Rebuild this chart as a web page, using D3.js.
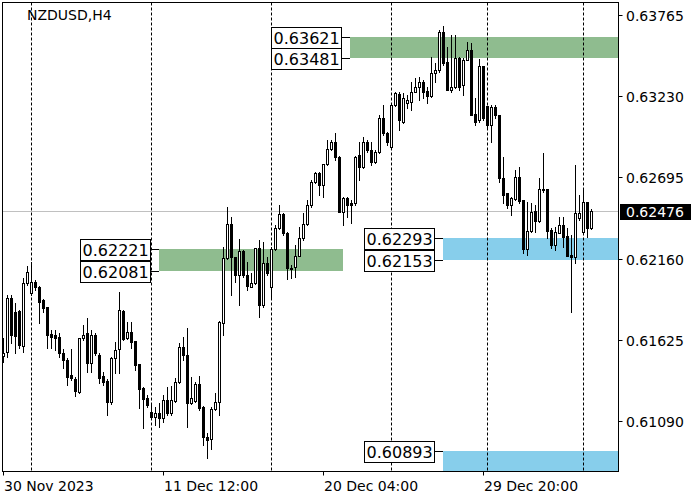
<!DOCTYPE html>
<html><head><meta charset="utf-8">
<script src="https://cdn.jsdelivr.net/npm/d3@7/dist/d3.min.js"></script>
<style>body{margin:0;background:#fff;} svg{display:block;}</style>
</head><body>
<script>
const symbolLabel = "NZDUSD,H4";
const opens = [
0.61518,0.61544,0.61900,0.61808,0.61815,0.61584,0.61999,0.61933,0.62006,0.61973,
0.61887,0.61841,0.61663,0.61657,0.61643,0.61538,0.61492,0.61393,0.61367,0.61281,
0.61637,0.61670,0.61472,0.61657,0.61525,0.61386,0.61353,0.61215,0.61505,0.61564,
0.61815,0.61637,0.61676,0.61617,0.61465,0.61307,0.61241,0.61149,0.61116,0.61142,
0.61110,0.61228,0.61142,0.61222,0.61347,0.61578,0.61525,0.61208,0.61222,0.61334,
0.61182,0.60984,0.60971,0.61169,0.61215,0.61736,0.62164,0.62388,0.62170,0.62052,
0.62210,0.62052,0.61973,0.61999,0.62230,0.61854,0.62131,0.61973,0.62223,0.62362,
0.62454,0.62329,0.62098,0.62105,0.62177,0.62296,0.62388,0.62513,0.62665,0.62724,
0.62645,0.62783,0.62882,0.62928,0.62830,0.62467,0.62559,0.62526,0.62526,0.62843,
0.62764,0.62928,0.62876,0.62796,0.62862,0.63086,0.62987,0.62895,0.63172,0.63245,
0.63060,0.63185,0.63192,0.63258,0.63291,0.63324,0.63264,0.63231,0.63383,0.63403,
0.63653,0.63455,0.63271,0.63291,0.63482,0.63304,0.63469,0.63534,0.63113,0.63073,
0.63429,0.63165,0.63040,0.63159,0.63106,0.62691,0.62592,0.62513,0.62553,0.62698,
0.62546,0.62223,0.62342,0.62474,0.62408,0.62612,0.62618,0.62348,0.62250,0.62329,
0.62381,0.62309,0.62184,0.62170,0.62427,0.62335,0.62533,0.62362];
const highs = [
0.61637,0.61920,0.61920,0.61867,0.61821,0.62032,0.62111,0.62138,0.62019,0.61979,
0.61894,0.61841,0.61689,0.61689,0.61670,0.61564,0.61505,0.61564,0.61380,0.61640,
0.61722,0.61769,0.61689,0.61670,0.61538,0.61413,0.61367,0.61512,0.61610,0.61940,
0.61821,0.61742,0.61742,0.61617,0.61465,0.61314,0.61261,0.61195,0.61182,0.61208,
0.61261,0.61314,0.61320,0.61373,0.61604,0.61643,0.61703,0.61380,0.61347,0.61386,
0.61189,0.61011,0.61182,0.61274,0.61748,0.62236,0.62500,0.62434,0.62172,0.62289,
0.62217,0.62138,0.62065,0.62233,0.62282,0.62269,0.62170,0.62236,0.62381,0.62513,
0.62460,0.62332,0.62118,0.62250,0.62368,0.62460,0.62546,0.62678,0.62730,0.62730,
0.62786,0.62941,0.62941,0.62987,0.62833,0.62566,0.62566,0.62546,0.62833,0.62928,
0.62961,0.62941,0.62928,0.62876,0.63106,0.63172,0.62994,0.63185,0.63258,0.63258,
0.63251,0.63238,0.63324,0.63350,0.63357,0.63337,0.63291,0.63488,0.63449,0.63666,
0.63692,0.63554,0.63633,0.63633,0.63488,0.63482,0.63587,0.63580,0.63218,0.63475,
0.63432,0.63168,0.63172,0.63172,0.63109,0.62830,0.62595,0.62566,0.62744,0.62764,
0.62549,0.62533,0.62526,0.62513,0.62691,0.62856,0.62621,0.62362,0.62368,0.62434,
0.62434,0.62362,0.62315,0.62777,0.62579,0.62625,0.62536,0.62487];
const lows = [
0.61479,0.61512,0.61604,0.61538,0.61571,0.61544,0.61986,0.61920,0.61953,0.61736,
0.61808,0.61571,0.61571,0.61558,0.61512,0.61439,0.61327,0.61360,0.61255,0.61274,
0.61624,0.61413,0.61413,0.61525,0.61340,0.61327,0.61129,0.61202,0.61406,0.61406,
0.61624,0.61630,0.61571,0.61426,0.61176,0.61044,0.61182,0.61100,0.61063,0.61050,
0.61083,0.61129,0.61129,0.61215,0.61340,0.61492,0.61050,0.61202,0.61215,0.61162,
0.60932,0.60846,0.60905,0.61162,0.61129,0.61657,0.62160,0.61920,0.62006,0.61854,
0.62039,0.61953,0.61970,0.61993,0.61775,0.61841,0.62052,0.61900,0.62217,0.62358,
0.62315,0.62025,0.62032,0.62039,0.62174,0.62282,0.62381,0.62500,0.62658,0.62579,
0.62566,0.62777,0.62876,0.62810,0.62464,0.62381,0.62434,0.62394,0.62513,0.62678,
0.62757,0.62862,0.62777,0.62790,0.62856,0.62974,0.62908,0.62889,0.63165,0.63007,
0.63053,0.63152,0.63139,0.63255,0.63205,0.63218,0.63185,0.63225,0.63324,0.63390,
0.63436,0.63268,0.63258,0.63284,0.63271,0.63238,0.63466,0.63103,0.63040,0.63060,
0.63073,0.63027,0.62928,0.63086,0.62665,0.62526,0.62493,0.62447,0.62546,0.62526,
0.62197,0.62184,0.62335,0.62335,0.62401,0.62599,0.62296,0.62230,0.62217,0.62326,
0.62236,0.62174,0.61808,0.62131,0.62414,0.62329,0.62302,0.62355];
const closes = [
0.61538,0.61900,0.61657,0.61650,0.61591,0.61999,0.62072,0.62006,0.61973,0.61874,
0.61834,0.61657,0.61643,0.61637,0.61538,0.61492,0.61380,0.61373,0.61288,0.61637,
0.61657,0.61472,0.61657,0.61538,0.61373,0.61347,0.61215,0.61505,0.61558,0.61821,
0.61630,0.61676,0.61610,0.61459,0.61301,0.61235,0.61195,0.61116,0.61142,0.61110,
0.61228,0.61142,0.61228,0.61347,0.61578,0.61525,0.61208,0.61241,0.61334,0.61176,
0.60984,0.60965,0.61169,0.61215,0.61742,0.62164,0.62388,0.62170,0.62052,0.62210,
0.62052,0.61979,0.61999,0.62230,0.61854,0.62131,0.62065,0.62223,0.62362,0.62454,
0.62329,0.62098,0.62091,0.62177,0.62296,0.62388,0.62513,0.62665,0.62724,0.62645,
0.62783,0.62882,0.62928,0.62830,0.62467,0.62559,0.62513,0.62513,0.62830,0.62764,
0.62928,0.62876,0.62796,0.62862,0.63086,0.62987,0.62928,0.63172,0.63251,0.63073,
0.63218,0.63205,0.63258,0.63291,0.63324,0.63258,0.63231,0.63383,0.63403,0.63653,
0.63449,0.63271,0.63291,0.63482,0.63291,0.63469,0.63534,0.63106,0.63060,0.63429,
0.63086,0.63040,0.63159,0.63106,0.62691,0.62579,0.62513,0.62559,0.62698,0.62540,
0.62223,0.62342,0.62467,0.62408,0.62618,0.62618,0.62342,0.62250,0.62335,0.62381,
0.62302,0.62177,0.62170,0.62460,0.62460,0.62533,0.62362,0.62476];

const priceTicks = [0.63765, 0.63230, 0.62695, 0.62160, 0.61625, 0.61090];
const timeTickBars = [0, 40, 80, 120];
const timeTickLabels = ["30 Nov 2023", "11 Dec 12:00", "20 Dec 04:00", "29 Dec 20:00"];
const gridBars = [7, 37, 67, 97, 121, 145];
const currentPrice = 0.62476;

// zones: top price, bottom price, start bar, end bar (null = right edge), colour, labels
const zoneTops = [0.63621, 0.62221, 0.62293, 0.60893];
const zoneBottoms = [0.63481, 0.62081, 0.62153, 0.60600];
const zoneStartBars = [86.6, 38.9, 109.9, 109.9];
const zoneEndBars = [null, 84.9, null, null];
const zoneColors = ["#8fbc8f", "#8fbc8f", "#87ceeb", "#87ceeb"];
const zoneLabels = [["0.63621","0.63481"],["0.62221","0.62081"],["0.62293","0.62153"],["0.60893"]];

const W = 700, H = 500;
const plot = {l: 2.5, t: 2.5, r: 618.5, b: 471.5};
const font = "DejaVu Sans, sans-serif";

const svg = d3.select("body").append("svg").attr("width", W).attr("height", H);
svg.append("rect").attr("width", W).attr("height", H).attr("fill", "#fff");

const x = d3.scaleLinear().domain([0, opens.length - 1]).range([3.5, 3.5 + 4 * (opens.length - 1)]);
const y = d3.scaleLinear().domain([0.61090, 0.63765]).range([421, 15]);

svg.append("clipPath").attr("id", "clip").append("rect")
  .attr("x", plot.l).attr("y", plot.t).attr("width", plot.r - plot.l).attr("height", plot.b - plot.t);
const g = svg.append("g").attr("clip-path", "url(#clip)");

// zones
zoneTops.forEach((top, k) => {
  const x0 = Math.round(x(zoneStartBars[k]));
  const x1 = zoneEndBars[k] === null ? plot.r : Math.round(x(zoneEndBars[k]));
  const y0 = Math.round(y(top)), y1 = Math.round(y(zoneBottoms[k]));
  g.append("rect").attr("x", x0).attr("y", y0).attr("width", x1 - x0).attr("height", y1 - y0)
    .attr("fill", zoneColors[k]);
});

// current price line
g.append("line").attr("x1", plot.l).attr("x2", plot.r)
  .attr("y1", Math.round(y(currentPrice)) + 0.5).attr("y2", Math.round(y(currentPrice)) + 0.5)
  .attr("stroke", "#c0c0c0").attr("stroke-width", 1);

// grid
gridBars.forEach(b => {
  g.append("line").attr("x1", x(b)).attr("x2", x(b)).attr("y1", plot.t).attr("y2", plot.b)
    .attr("stroke", "#000").attr("stroke-width", 1).attr("stroke-dasharray", "3,2");
});

// candles
const bars = d3.range(opens.length).map(i => ({i, o: opens[i], h: highs[i], l: lows[i], c: closes[i]}));
const cg = g.append("g");
bars.forEach(d => {
  const cx = x(d.i);
  cg.append("line").attr("x1", cx).attr("x2", cx)
    .attr("y1", Math.round(y(d.h))).attr("y2", Math.round(y(d.l)) + 1)
    .attr("stroke", "#000").attr("stroke-width", 1);
  const yt = Math.round(y(Math.max(d.o, d.c))), yb = Math.round(y(Math.min(d.o, d.c)));
  cg.append("rect").attr("x", cx - 1).attr("y", yt + 0.5).attr("width", 2).attr("height", Math.max(yb - yt, 0))
    .attr("fill", d.c >= d.o ? "#fff" : "#000").attr("stroke", "#000").attr("stroke-width", 1);
});

// zone labels
zoneTops.forEach((top, k) => {
  const x0 = Math.round(x(zoneStartBars[k]));
  const prices = [top, zoneBottoms[k]];
  zoneLabels[k].forEach((lab, j) => {
    const py = Math.round(y(prices[j]));
    const boxW = 70;
    const bx = x0 - 79;
    svg.append("line").attr("x1", bx + boxW).attr("x2", x0).attr("y1", py + 0.5).attr("y2", py + 0.5)
      .attr("stroke", "#000");
    svg.append("rect").attr("x", bx + 0.5).attr("y", py - 10 + 0.5).attr("width", boxW).attr("height", 21)
      .attr("fill", "#fff").attr("stroke", "#000");
    svg.append("text").attr("x", bx + 2.5).attr("y", py + 6.5).attr("font-family", font).attr("font-size", 16)
      .attr("fill", "#000").text(lab);
  });
});

// frame
svg.append("rect").attr("x", plot.l).attr("y", plot.t).attr("width", plot.r - plot.l).attr("height", plot.b - plot.t)
  .attr("fill", "none").attr("stroke", "#000");

// right axis
priceTicks.forEach(p => {
  const py = Math.round(y(p)) + 0.5;
  svg.append("line").attr("x1", plot.r).attr("x2", plot.r + 4).attr("y1", py).attr("y2", py).attr("stroke", "#000");
  svg.append("text").attr("x", 626).attr("y", py + 5).attr("font-family", font).attr("font-size", 14)
    .attr("fill", "#000").text(p.toFixed(5));
});
const cpy = Math.round(y(currentPrice));
svg.append("rect").attr("x", 620).attr("y", cpy - 7).attr("width", 71).attr("height", 16).attr("fill", "#000");
svg.append("text").attr("x", 626).attr("y", cpy + 6).attr("font-family", font).attr("font-size", 14)
  .attr("fill", "#fff").text(currentPrice.toFixed(5));

// bottom axis
timeTickBars.forEach((b, k) => {
  const tx = Math.floor(x(b)) + 0.5;
  svg.append("line").attr("x1", tx).attr("x2", tx).attr("y1", plot.b).attr("y2", plot.b + 4).attr("stroke", "#000");
  svg.append("text").attr("x", tx + 0.5).attr("y", 491).attr("font-family", font).attr("font-size", 14)
    .attr("fill", "#000").text(timeTickLabels[k]);
});

// symbol label
svg.append("text").attr("x", 27).attr("y", 20).attr("font-family", font).attr("font-size", 14)
  .attr("fill", "#000").text(symbolLabel);
</script>
</body></html>
